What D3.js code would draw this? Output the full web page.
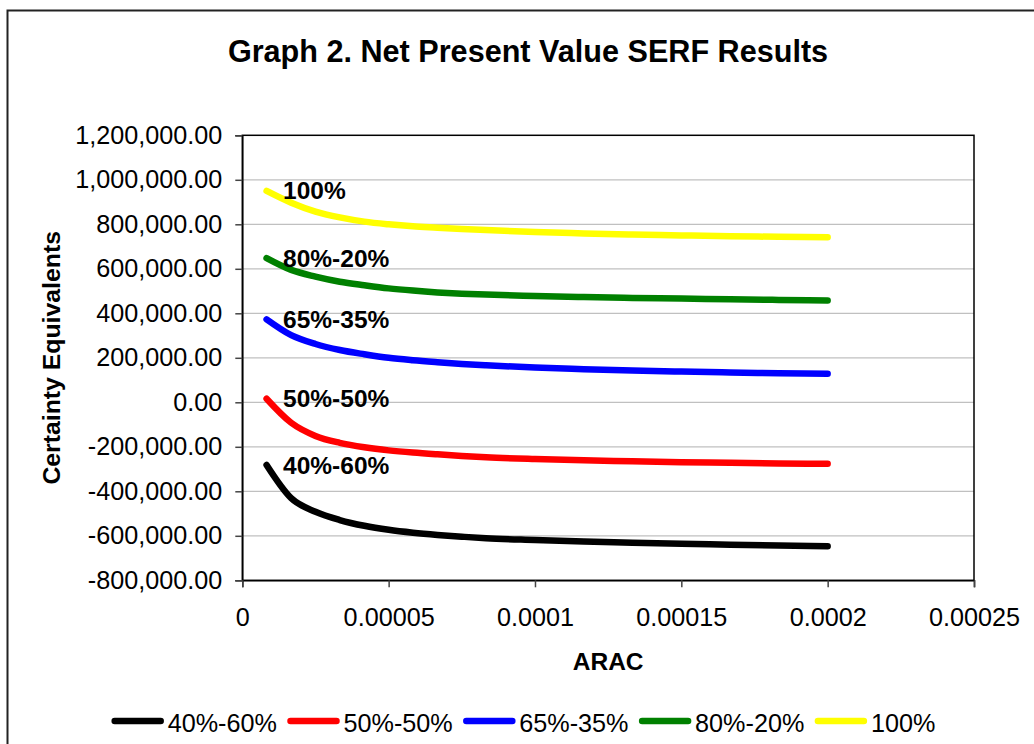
<!DOCTYPE html>
<html>
<head>
<meta charset="utf-8">
<script src="https://cdn.jsdelivr.net/npm/d3@7"></script>
<style>
  html, body { margin: 0; padding: 0; background: #fff; }
  svg { display: block; font-family: "Liberation Sans", Arial, sans-serif; }
</style>
</head>
<body>
<svg id="chart" width="1034" height="744"></svg>
<script>
// ---- data ----
const title = "Graph 2. Net Present Value SERF Results";
const xTitle = "ARAC";
const yTitle = "Certainty Equivalents";
const arac = [0.0000083, 0.0000167, 0.000025, 0.0000333, 0.0000417, 0.00005, 0.0000583, 0.0000667,
              0.000075, 0.0000833, 0.0001, 0.0001167, 0.0001333, 0.00015, 0.0001667, 0.0001833, 0.0002];
const seriesNames = ["40%-60%", "50%-50%", "65%-35%", "80%-20%", "100%"];
const s4060 = [-282000, -431000, -492000, -529000, -555000, -573000, -586000, -596000, -604000, -611000,
               -619000, -626000, -631000, -636000, -640000, -644000, -647000];
const s5050 = [16000, -92000, -151000, -182000, -202000, -216000, -226000, -234000, -241000, -247000,
               -255000, -261000, -265000, -269000, -272000, -275000, -276000];
const s6535 = [373000, 302000, 262000, 235000, 216000, 200000, 189000, 180000, 172000, 166000,
               156000, 149000, 143000, 138000, 134000, 131000, 128000];
const s8020 = [648000, 595000, 565000, 542000, 526000, 512000, 502000, 494000, 488000, 484000,
               478000, 473000, 469000, 466000, 463000, 460000, 458000];
const s100 = [950000, 897000, 857000, 831000, 812000, 800000, 791000, 785000, 779000, 774000,
              765000, 759000, 754000, 750000, 746000, 744000, 742000];
const colors = ["#000000", "#ff0000", "#0000ff", "#008000", "#ffff00"];
const xTicks = [0, 0.00005, 0.0001, 0.00015, 0.0002, 0.00025];
const xTickLabels = ["0", "0.00005", "0.0001", "0.00015", "0.0002", "0.00025"];
const yTicks = [-800000, -600000, -400000, -200000, 0, 200000, 400000, 600000, 800000, 1000000, 1200000];

// ---- layout ----
const svg = d3.select("#chart");
const W = 1034, H = 744;
const plot = { left: 242.3, top: 135.3, right: 974, bottom: 580.3 };
const FONT = 24.5, TICKFONT = 25.2;

svg.append("rect").attr("width", W).attr("height", H).attr("fill", "#fff");
svg.append("rect").attr("x", 7.5).attr("y", 10.5).attr("width", 1100).attr("height", 900)
   .attr("fill", "none").attr("stroke", "#222").attr("stroke-width", 2);

const x = d3.scaleLinear().domain([0, 0.00025]).range([plot.left, plot.right]);
const y = d3.scaleLinear().domain([-800000, 1200000]).range([plot.bottom, plot.top]);

// gridlines
svg.append("g").selectAll("line").data(yTicks.filter(t => t > -800000 && t < 1200000)).join("line")
  .attr("x1", plot.left).attr("x2", plot.right)
  .attr("y1", d => y(d)).attr("y2", d => y(d))
  .attr("stroke", "#c0c0c0").attr("stroke-width", 1.3);

// plot border
svg.append("rect").attr("x", plot.left).attr("y", plot.top)
  .attr("width", plot.right - plot.left).attr("height", plot.bottom - plot.top)
  .attr("fill", "none").attr("stroke", "#000").attr("stroke-width", 1.5);

// axes
const yAxis = d3.axisLeft(y).tickValues(yTicks).tickSize(7).tickPadding(13)
  .tickFormat(d => d3.format(",.2f")(d).replace("−", "-"));
const gy = svg.append("g").attr("transform", `translate(${plot.left},0)`).call(yAxis);
gy.select(".domain").attr("stroke", "#000").attr("stroke-width", 1.5);
gy.selectAll(".tick line").attr("stroke", "#444").attr("stroke-width", 1.5);
gy.selectAll("text").attr("font-size", TICKFONT).attr("fill", "#000")
  .attr("font-family", "'Liberation Sans', Arial, sans-serif");

const xAxis = d3.axisBottom(x).tickValues(xTicks).tickSize(7).tickPadding(21)
  .tickFormat((d, i) => xTickLabels[i]);
const gx = svg.append("g").attr("transform", `translate(0,${plot.bottom})`).call(xAxis);
gx.select(".domain").attr("stroke", "#000").attr("stroke-width", 1.5);
gx.selectAll(".tick line").attr("stroke", "#444").attr("stroke-width", 1.5);
gx.selectAll("text").attr("font-size", TICKFONT).attr("fill", "#000")
  .attr("font-family", "'Liberation Sans', Arial, sans-serif");

// lines
const allSeries = [s4060, s5050, s6535, s8020, s100];
const line = d3.line().x((d, i) => x(arac[i])).y(d => y(d)).curve(d3.curveMonotoneX);
svg.append("g").selectAll("path").data(allSeries).join("path")
  .attr("d", d => line(d))
  .attr("fill", "none")
  .attr("stroke", (d, i) => colors[i])
  .attr("stroke-width", 6.5)
  .attr("stroke-linecap", "round")
  .attr("stroke-linejoin", "round");

// inline labels at first point
svg.append("g").selectAll("text").data(allSeries).join("text")
  .attr("x", d => x(arac[0]) + 16.5)
  .attr("y", d => y(d[0]) + 8.5)
  .attr("font-size", FONT).attr("font-weight", "bold").attr("fill", "#000")
  .text((d, i) => seriesNames[i]);

// titles
svg.append("text").attr("x", 528).attr("y", 61.5).attr("text-anchor", "middle")
  .attr("font-size", 30.6).attr("font-weight", "bold").text(title);
svg.append("text").attr("x", (plot.left + plot.right) / 2).attr("y", 669.5).attr("text-anchor", "middle")
  .attr("font-size", FONT).attr("font-weight", "bold").text(xTitle);
svg.append("text").attr("transform", `translate(60,${(plot.top + plot.bottom) / 2}) rotate(-90)`)
  .attr("text-anchor", "middle")
  .attr("font-size", 24.8).attr("font-weight", "bold").text(yTitle);

// legend
const legendX0 = 111.7, legendStep = 175.8, legendY = 721;
const lg = svg.append("g").selectAll("g").data(seriesNames).join("g")
  .attr("transform", (d, i) => `translate(${legendX0 + i * legendStep},${legendY})`);
lg.append("line").attr("x1", 3).attr("x2", 49).attr("y1", 0).attr("y2", 0)
  .attr("stroke", (d, i) => colors[i]).attr("stroke-width", 6.5).attr("stroke-linecap", "round");
lg.append("text").attr("x", 56).attr("y", 10.7).attr("font-size", TICKFONT).attr("fill", "#000")
  .text(d => d);
</script>
</body>
</html>
